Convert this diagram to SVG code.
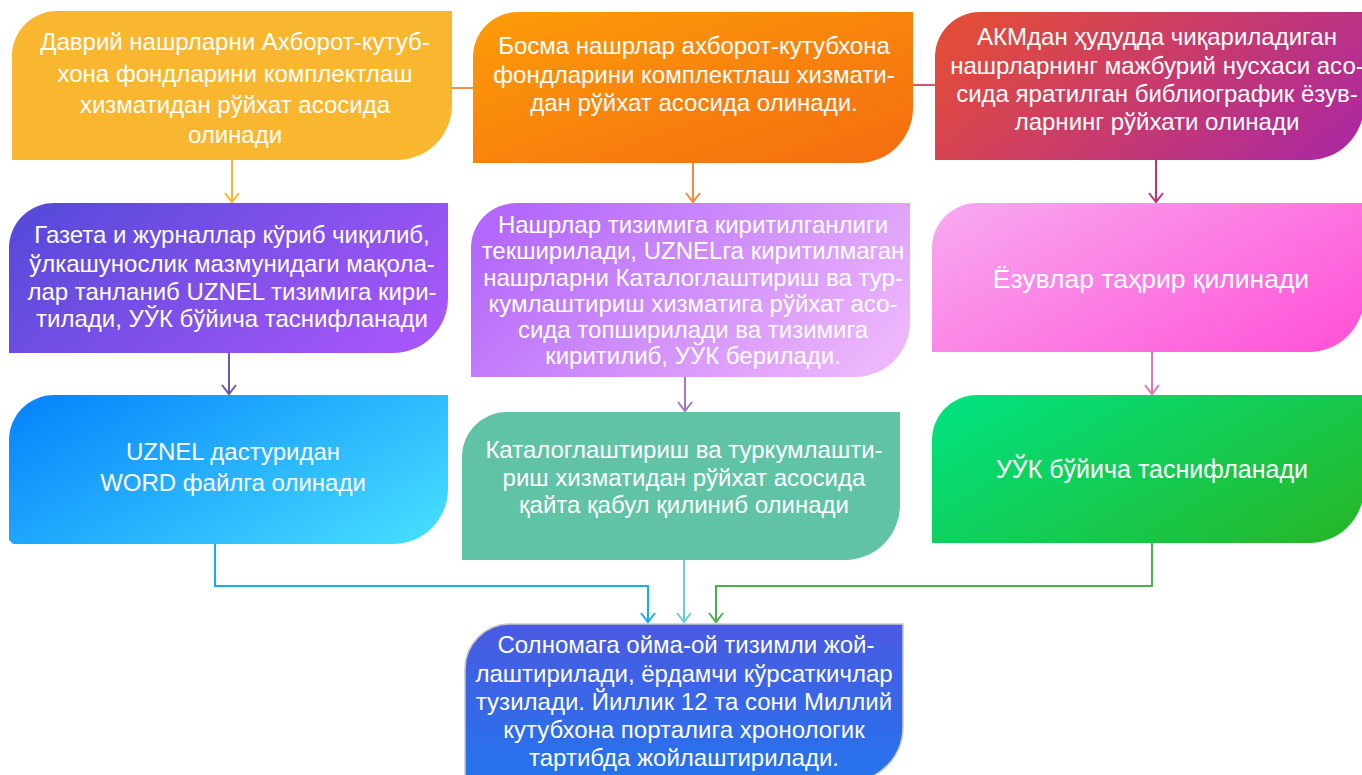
<svg xmlns="http://www.w3.org/2000/svg" width="1362" height="775" viewBox="0 0 1362 775">
<style>
text{font-family:"Liberation Sans",Arial,sans-serif;font-size:24px;fill:#fff;text-anchor:middle}
.c{fill:none;stroke-width:2}
</style>
<defs>
<linearGradient id="g2" x1="0" y1="0" x2="1" y2="1"><stop offset="0" stop-color="#FC9C08"/><stop offset="1" stop-color="#F46C10"/></linearGradient>
<linearGradient id="g3" x1="0" y1="0.3" x2="1" y2="0.7"><stop offset="0" stop-color="#E24C3A"/><stop offset="1" stop-color="#AE2A9C"/></linearGradient>
<linearGradient id="g4" x1="0" y1="0.3" x2="1" y2="0.7"><stop offset="0" stop-color="#5A4ADB"/><stop offset="1" stop-color="#A657F8"/></linearGradient>
<linearGradient id="g5" x1="0" y1="0.3" x2="1" y2="0.7"><stop offset="0" stop-color="#B368FB"/><stop offset="1" stop-color="#EDB6FB"/></linearGradient>
<linearGradient id="g6" x1="0" y1="0.2" x2="1" y2="0.8"><stop offset="0" stop-color="#F8A4EE"/><stop offset="1" stop-color="#FF56D8"/></linearGradient>
<linearGradient id="g7" x1="0" y1="0.2" x2="1" y2="0.8"><stop offset="0" stop-color="#0A88FB"/><stop offset="1" stop-color="#43DAFF"/></linearGradient>
<linearGradient id="g9" x1="0" y1="0.2" x2="1" y2="0.8"><stop offset="0" stop-color="#02E07C"/><stop offset="1" stop-color="#24B92C"/></linearGradient>
<linearGradient id="g10" x1="0" y1="0" x2="0" y2="1"><stop offset="0" stop-color="#4A5AE2"/><stop offset="1" stop-color="#2474EC"/></linearGradient>
<marker id="mY" markerUnits="userSpaceOnUse" markerWidth="20" markerHeight="20" orient="auto" overflow="visible"><path d="M-9,-7 L0,0 L-9,7" fill="none" stroke="#F9B62F" stroke-width="2"/></marker>
<marker id="mO" markerUnits="userSpaceOnUse" markerWidth="20" markerHeight="20" orient="auto" overflow="visible"><path d="M-9,-7 L0,0 L-9,7" fill="none" stroke="#F08A45" stroke-width="2"/></marker>
<marker id="mM" markerUnits="userSpaceOnUse" markerWidth="20" markerHeight="20" orient="auto" overflow="visible"><path d="M-9,-7 L0,0 L-9,7" fill="none" stroke="#C0337C" stroke-width="2"/></marker>
<marker id="mP" markerUnits="userSpaceOnUse" markerWidth="20" markerHeight="20" orient="auto" overflow="visible"><path d="M-9,-7 L0,0 L-9,7" fill="none" stroke="#6A5AAA" stroke-width="2"/></marker>
<marker id="mL" markerUnits="userSpaceOnUse" markerWidth="20" markerHeight="20" orient="auto" overflow="visible"><path d="M-9,-7 L0,0 L-9,7" fill="none" stroke="#A07AC0" stroke-width="2"/></marker>
<marker id="mK" markerUnits="userSpaceOnUse" markerWidth="20" markerHeight="20" orient="auto" overflow="visible"><path d="M-9,-7 L0,0 L-9,7" fill="none" stroke="#D878B8" stroke-width="2"/></marker>
<marker id="mB" markerUnits="userSpaceOnUse" markerWidth="20" markerHeight="20" orient="auto" overflow="visible"><path d="M-9,-7 L0,0 L-9,7" fill="none" stroke="#16ADEE" stroke-width="2"/></marker>
<marker id="mT" markerUnits="userSpaceOnUse" markerWidth="20" markerHeight="20" orient="auto" overflow="visible"><path d="M-9,-7 L0,0 L-9,7" fill="none" stroke="#6ECBDF" stroke-width="2"/></marker>
<marker id="mG" markerUnits="userSpaceOnUse" markerWidth="20" markerHeight="20" orient="auto" overflow="visible"><path d="M-9,-7 L0,0 L-9,7" fill="none" stroke="#4CB050" stroke-width="2"/></marker>
</defs>
<rect width="1362" height="775" fill="#fff"/>
<g id="connectors">
<path class="c" d="M452,88 H473" stroke="#F08E4A"/>
<path class="c" d="M913,85 H935" stroke="#E0506A"/>
<path class="c" d="M232,160 V202" stroke="#F9B62F" marker-end="url(#mY)"/>
<path class="c" d="M693,163 V202" stroke="#F08A45" marker-end="url(#mO)"/>
<path class="c" d="M1156,160 V202" stroke="#C0337C" marker-end="url(#mM)"/>
<path class="c" d="M229,353 V394" stroke="#6A5AAA" marker-end="url(#mP)"/>
<path class="c" d="M685,377 V411" stroke="#A07AC0" marker-end="url(#mL)"/>
<path class="c" d="M1152,352 V394" stroke="#D878B8" marker-end="url(#mK)"/>
<path class="c" d="M215,544 V586 H648 V622" stroke="#16ADEE" marker-end="url(#mB)"/>
<path class="c" d="M684,560 V622" stroke="#6ECBDF" marker-end="url(#mT)"/>
<path class="c" d="M1152,543 V586 H716 V622" stroke="#4CB050" marker-end="url(#mG)"/>
</g>
<g id="n1">
<path d="M12,160 V56 A45,45 0 0 1 57,11 H452 V105 A55,55 0 0 1 397,160 Z" fill="#F9B62F"/>
<text x="235" y="50">Даврий нашрларни Ахборот-кутуб-</text>
<text x="235" y="82">хона фондларини комплектлаш</text>
<text x="235" y="113">хизматидан рўйхат асосида</text>
<text x="235" y="143">олинади</text>
</g>
<g id="n2">
<path d="M473,163 V57 A45,45 0 0 1 518,12 H913 V108 A55,55 0 0 1 858,163 Z" fill="url(#g2)"/>
<text x="694" y="54">Босма нашрлар ахборот-кутубхона</text>
<text x="694" y="83">фондларини комплектлаш хизмати-</text>
<text x="694" y="111">дан рўйхат асосида олинади.</text>
</g>
<g id="n3">
<path d="M935,160 V57 A45,45 0 0 1 980,12 H1364 V105 A55,55 0 0 1 1309,160 Z" fill="url(#g3)"/>
<text x="1157" y="45">АКМдан ҳудудда чиқариладиган</text>
<text x="1157" y="74">нашрларнинг мажбурий нусхаси асо-</text>
<text x="1157" y="102">сида яратилган библиографик ёзув-</text>
<text x="1157" y="130">ларнинг рўйхати олинади</text>
</g>
<g id="n4">
<path d="M9,353 V248 A45,45 0 0 1 54,203 H448 V298 A55,55 0 0 1 393,353 Z" fill="url(#g4)"/>
<text x="232" y="243">Газета и журналлар кўриб чиқилиб,</text>
<text x="232" y="272">ўлкашунослик мазмунидаги мақола-</text>
<text x="232" y="300">лар танланиб UZNEL тизимига кири-</text>
<text x="232" y="327">тилади, УЎК бўйича таснифланади</text>
</g>
<g id="n5">
<path d="M471,377 V248 A45,45 0 0 1 516,203 H910 V322 A55,55 0 0 1 855,377 Z" fill="url(#g5)"/>
<text x="693" y="233">Нашрлар тизимига киритилганлиги</text>
<text x="693" y="259">текширилади, UZNELга киритилмаган</text>
<text x="693" y="286">нашрларни Каталоглаштириш ва тур-</text>
<text x="693" y="312">кумлаштириш хизматига рўйхат асо-</text>
<text x="693" y="338">сида топширилади ва тизимига</text>
<text x="693" y="364">киритилиб, УЎК берилади.</text>
</g>
<g id="n6">
<path d="M932,352 V248 A45,45 0 0 1 977,203 H1364 V297 A55,55 0 0 1 1309,352 Z" fill="url(#g6)"/>
<text x="1151" y="288" style="font-size:26.5px">Ёзувлар таҳрир қилинади</text>
</g>
<g id="n7">
<path d="M13,544 L9,540 V440 A45,45 0 0 1 54,395 H448 V489 A55,55 0 0 1 393,544 Z" fill="url(#g7)"/>
<text x="233" y="460">UZNEL дастуридан</text>
<text x="233" y="491">WORD файлга олинади</text>
</g>
<g id="n8">
<path d="M462,560 V457 A45,45 0 0 1 507,412 H900 V505 A55,55 0 0 1 845,560 Z" fill="#61C3A6"/>
<text x="684" y="458">Каталоглаштириш ва туркумлашти-</text>
<text x="684" y="486">риш хизматидан рўйхат асосида</text>
<text x="684" y="513">қайта қабул қилиниб олинади</text>
</g>
<g id="n9">
<path d="M932,543 V440 A45,45 0 0 1 977,395 H1364 V488 A55,55 0 0 1 1309,543 Z" fill="url(#g9)"/>
<text x="1152" y="478" style="font-size:25px">УЎК бўйича таснифланади</text>
</g>
<g id="n10">
<path d="M465,782 V669 A45,45 0 0 1 510,624 H903 V727 A55,55 0 0 1 848,782 Z" fill="url(#g10)" stroke="#C9C9C9" stroke-width="1.5"/>
<text x="686" y="653">Солномага ойма-ой тизимли жой-</text>
<text x="684" y="682">лаштирилади, ёрдамчи кўрсаткичлар</text>
<text x="684" y="710">тузилади. Йиллик 12 та сони Миллий</text>
<text x="684" y="738">кутубхона порталига хронологик</text>
<text x="684" y="766">тартибда жойлаштирилади.</text>
</g>
</svg>
